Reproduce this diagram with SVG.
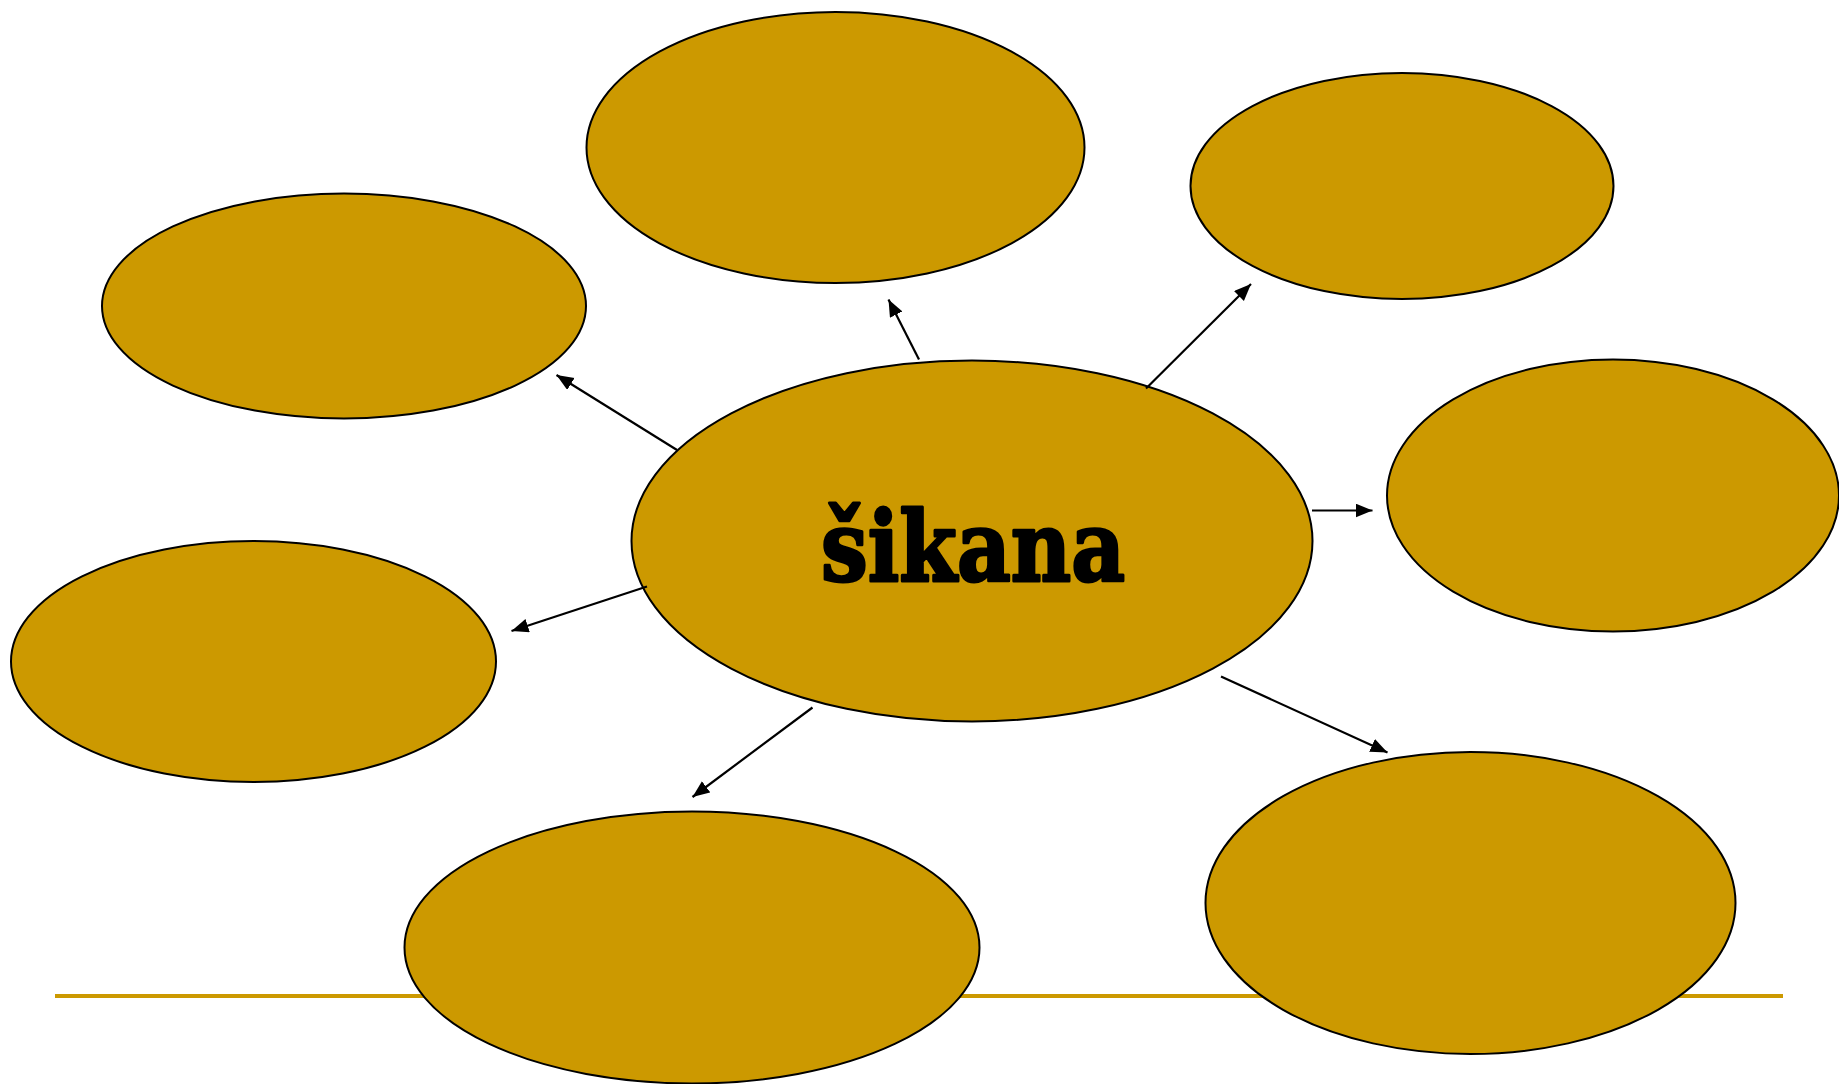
<svg xmlns="http://www.w3.org/2000/svg" width="1839" height="1084" viewBox="0 0 1839 1084">
<style>
.node{fill:#CC9900;stroke:#000;stroke-width:2}
.conn{stroke:#000;stroke-width:2.2;fill:none;marker-end:url(#ah)}
.title{font-family:"DejaVu Serif","Liberation Serif",serif;font-weight:bold;font-size:97px;fill:#000;stroke:#000;stroke-width:3;stroke-linejoin:round}
</style>
<defs>
<marker id="ah" markerUnits="userSpaceOnUse" markerWidth="18" markerHeight="15" refX="17" refY="7" orient="auto">
<path d="M0,0 L17,7 L0,14 z" fill="#000"/>
</marker>
</defs>
<rect width="1839" height="1084" fill="#fff"/>
<line x1="55" y1="996" x2="1783" y2="996" stroke="#CC9900" stroke-width="4"/>
<g id="n-top"><ellipse class="node" cx="835.5" cy="147.5" rx="249" ry="135.5"/></g>
<g id="n-topright"><ellipse class="node" cx="1402" cy="186" rx="211.5" ry="113"/></g>
<g id="n-upperleft"><ellipse class="node" cx="344" cy="306" rx="242" ry="112.5"/></g>
<g id="n-right"><ellipse class="node" cx="1613" cy="495.5" rx="226" ry="136"/></g>
<g id="n-lowerleft"><ellipse class="node" cx="253.5" cy="661.5" rx="242.5" ry="120.5"/></g>
<g id="n-bottom"><ellipse class="node" cx="692" cy="947.5" rx="287.5" ry="136"/></g>
<g id="n-bottomright"><ellipse class="node" cx="1470.5" cy="903" rx="265" ry="151"/></g>
<g id="n-center"><ellipse class="node" cx="972" cy="541" rx="340.5" ry="180.5"/>
<text class="title" x="821" y="581" textLength="304" lengthAdjust="spacingAndGlyphs">šikana</text></g>
<g id="connectors">
<line class="conn" x1="919" y1="359.5" x2="888.5" y2="299.5"/>
<line class="conn" x1="1146" y1="388.5" x2="1251" y2="284"/>
<line class="conn" x1="677" y1="450" x2="556.5" y2="375"/>
<line class="conn" x1="1312" y1="510.5" x2="1372.5" y2="510.5"/>
<line class="conn" x1="647" y1="586.5" x2="511.5" y2="631"/>
<line class="conn" x1="812.5" y1="707.5" x2="692.5" y2="797"/>
<line class="conn" x1="1221" y1="676.5" x2="1387.5" y2="752.5"/>
</g>
</svg>
